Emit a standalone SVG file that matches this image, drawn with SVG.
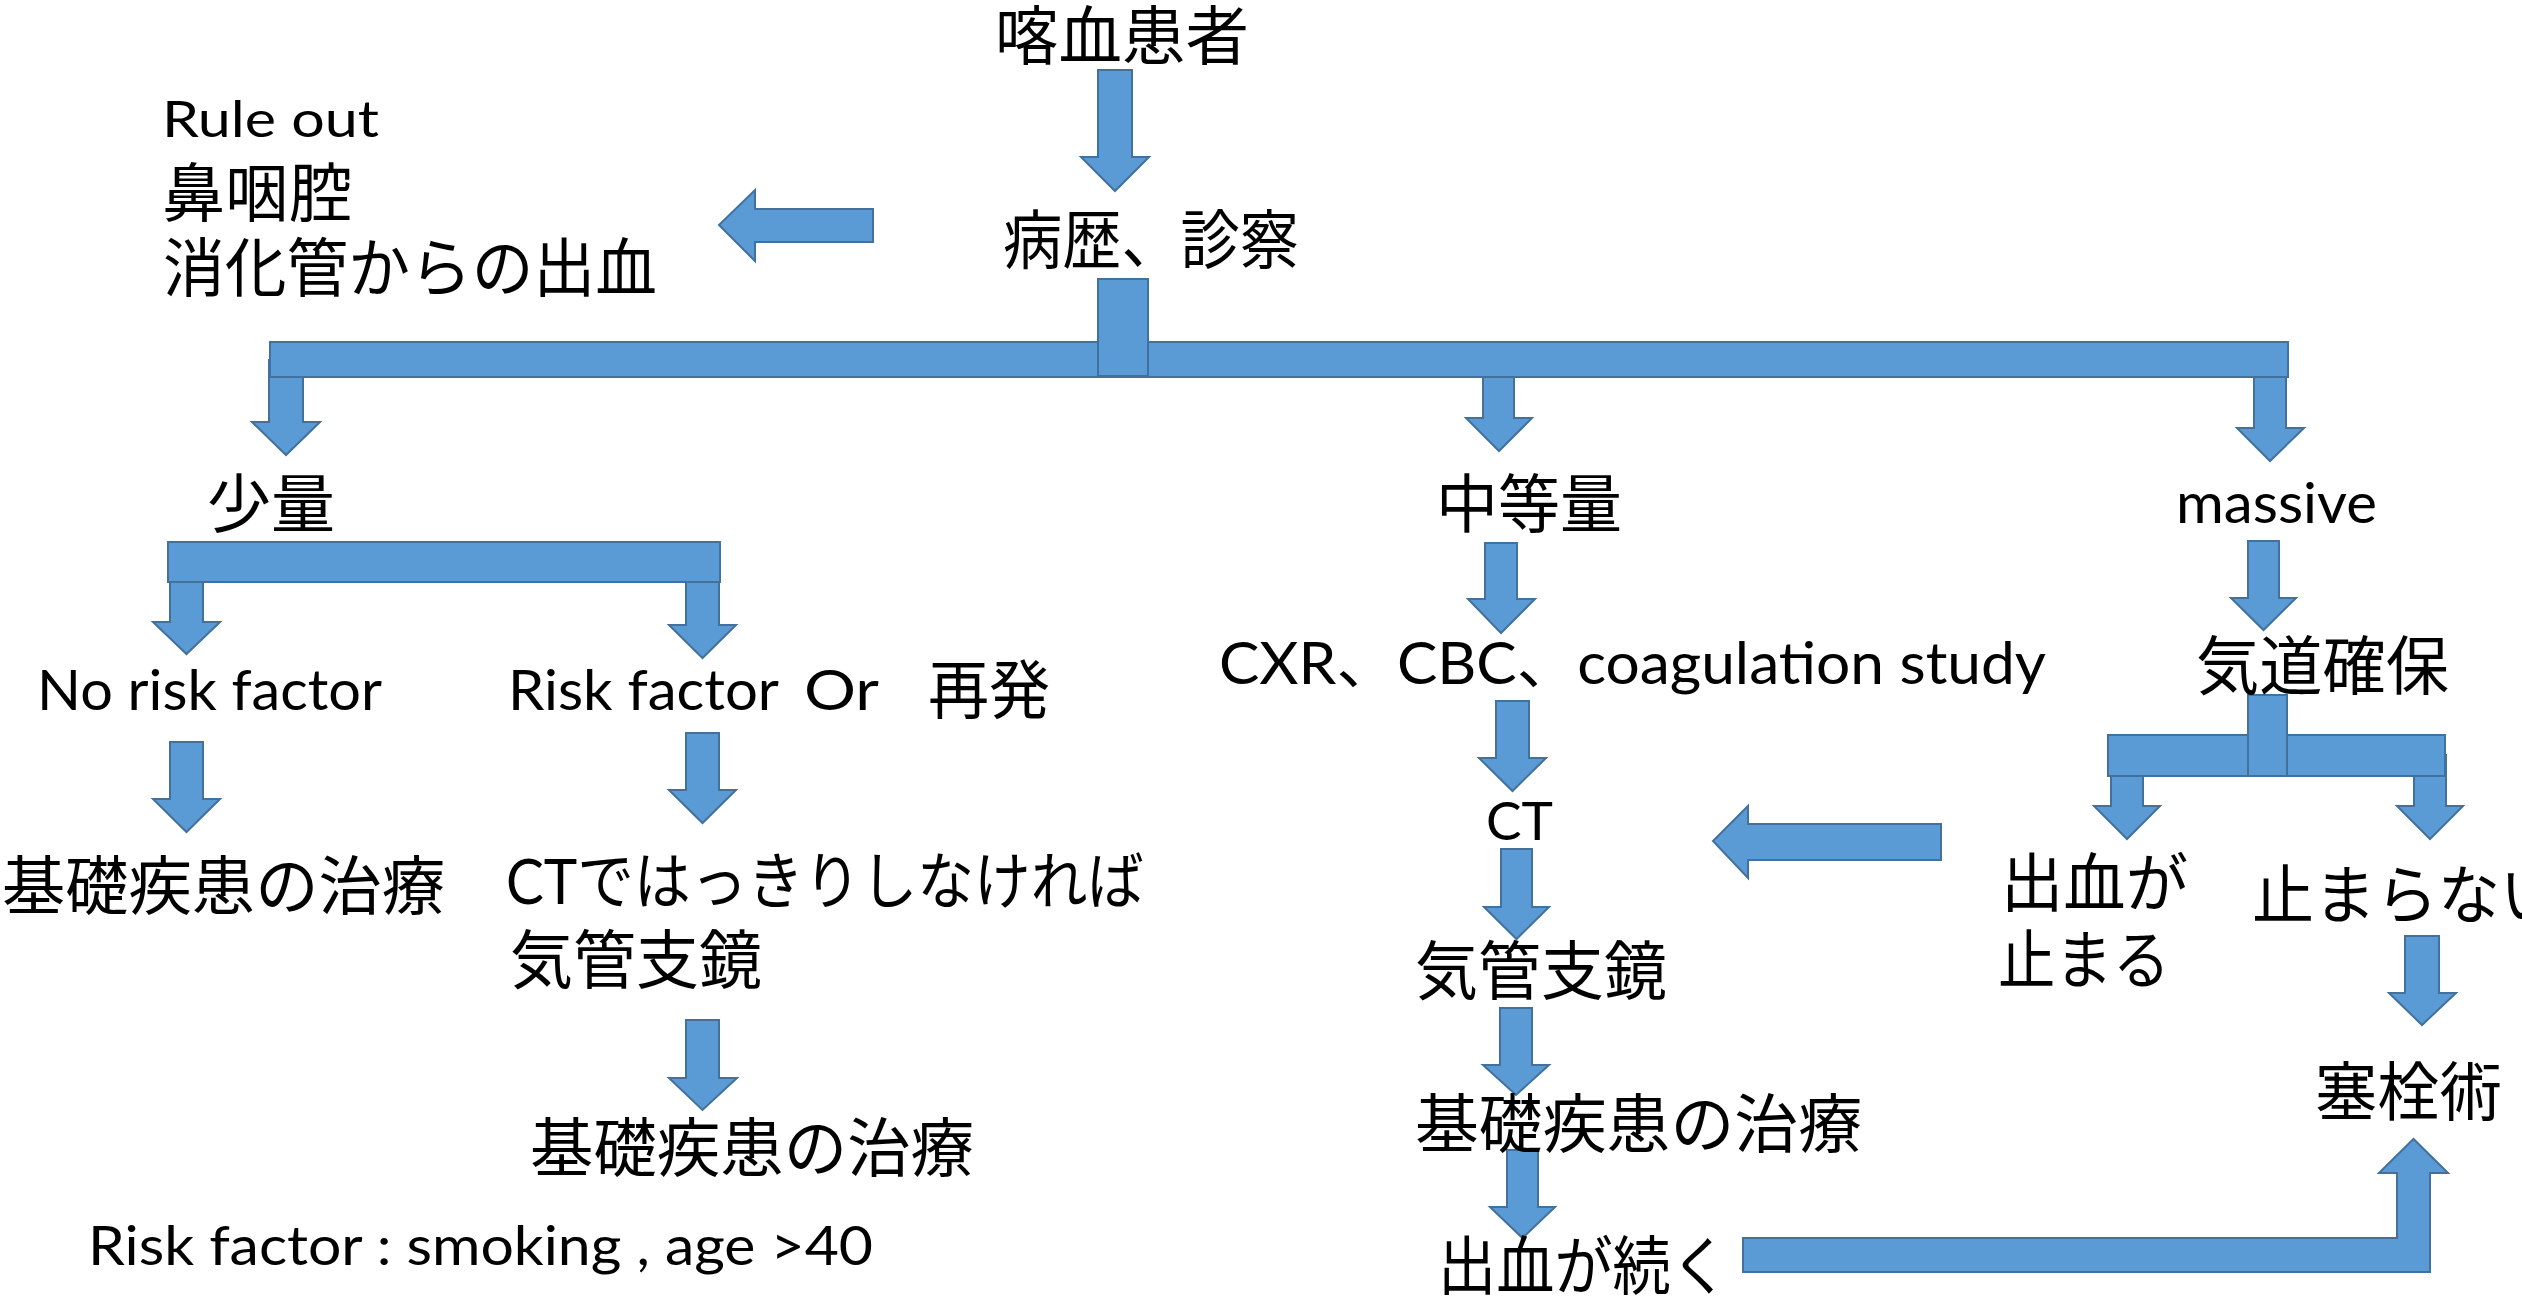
<svg xmlns="http://www.w3.org/2000/svg" width="2522" height="1296" viewBox="0 0 2522 1296">
<style>
.a{fill:#5B9BD5;stroke:#41719C;stroke-width:2;stroke-linejoin:miter}
.t{fill:#000;font-family:Lato,"Noto Sans CJK JP",sans-serif}
.j{font-family:"Noto Sans CJK JP",sans-serif;font-size:64px}
.l{font-size:56px}
</style>
<rect width="2522" height="1296" fill="#fff"/>
<g id="connectors">
<path class="a" d="M1098,70 L1132,70 L1132,157 L1149,157 L1115,191 L1081,157 L1098,157 Z"/>
<path class="a" d="M873,209 L873,242 L755,242 L755,261 L719,225 L755,190 L755,209 Z"/>
<path class="a" d="M269,360 L303,360 L303,422 L320,422 L286,455 L252,422 L269,422 Z"/>
<path class="a" d="M1483,360 L1514,360 L1514,418 L1532,418 L1499,451 L1466,418 L1483,418 Z"/>
<path class="a" d="M2254,360 L2286,360 L2286,428 L2304,428 L2270,461 L2237,428 L2254,428 Z"/>
<rect class="a" x="270" y="342" width="2018" height="35"/>
<rect class="a" x="1098" y="279" width="50" height="97"/>
<path class="a" d="M170,560 L203,560 L203,622 L220,622 L186.5,654 L153,622 L170,622 Z"/>
<path class="a" d="M686,560 L719,560 L719,625 L736,625 L702.5,658 L669,625 L686,625 Z"/>
<rect class="a" x="168" y="542" width="552" height="40"/>
<path class="a" d="M170,742 L203,742 L203,799 L220,799 L186.5,832 L153,799 L170,799 Z"/>
<path class="a" d="M686,733 L719,733 L719,790 L736,790 L702.5,823 L669,790 L686,790 Z"/>
<path class="a" d="M686,1020 L719,1020 L719,1078 L737,1078 L702.5,1110 L669,1078 L686,1078 Z"/>
<path class="a" d="M1485,543 L1517,543 L1517,599 L1535,599 L1501,633 L1468,599 L1485,599 Z"/>
<path class="a" d="M1496,701 L1529,701 L1529,758 L1546,758 L1512.5,791 L1479,758 L1496,758 Z"/>
<path class="a" d="M1501,849 L1532,849 L1532,907 L1549,907 L1516.5,939 L1484,907 L1501,907 Z"/>
<path class="a" d="M1500,1008 L1532,1008 L1532,1065 L1549,1065 L1516,1095 L1483,1065 L1500,1065 Z"/>
<path class="a" d="M1507,1150 L1538,1150 L1538,1207 L1555,1207 L1522.5,1238 L1490,1207 L1507,1207 Z"/>
<path class="a" d="M2248,541 L2279,541 L2279,598 L2296,598 L2263.5,630 L2231,598 L2248,598 Z"/>
<path class="a" d="M2111,755 L2143,755 L2143,806 L2160,806 L2127,839 L2094,806 L2111,806 Z"/>
<path class="a" d="M2414,755 L2446,755 L2446,806 L2463,806 L2430,839 L2397,806 L2414,806 Z"/>
<rect class="a" x="2108" y="735" width="337" height="41"/>
<rect class="a" x="2248" y="695" width="39" height="81"/>
<path class="a" d="M1941,824 L1941,860 L1748,860 L1748,878 L1713,841 L1748,806 L1748,824 Z"/>
<path class="a" d="M2405,936 L2439,936 L2439,993 L2456,993 L2422,1025 L2389,993 L2405,993 Z"/>
<path class="a" d="M1743,1238 L2397,1238 L2397,1173 L2379,1173 L2413.5,1139 L2448,1173 L2430,1173 L2430,1272 L1743,1272 Z"/>
</g>
<g id="n-patient"><text class="t j" x="995" y="59" font-size="60" textLength="254" lengthAdjust="spacingAndGlyphs">喀血患者</text></g>
<g id="n-history"><text class="t j" x="1003" y="263" textLength="296" lengthAdjust="spacingAndGlyphs">病歴、診察</text></g>
<g id="n-ruleout">
<text class="t" x="162" y="137" font-size="50" textLength="217" lengthAdjust="spacingAndGlyphs">Rule out</text>
<text class="t j" x="162" y="216" textLength="190" lengthAdjust="spacingAndGlyphs">鼻咽腔</text>
<text class="t j" x="163" y="291" textLength="494" lengthAdjust="spacingAndGlyphs">消化管からの出血</text>
</g>
<g id="n-small"><text class="t j" x="207" y="527" textLength="128" lengthAdjust="spacingAndGlyphs">少量</text></g>
<g id="n-moderate"><text class="t j" x="1436" y="527" textLength="186" lengthAdjust="spacingAndGlyphs">中等量</text></g>
<g id="n-massive"><text class="t" x="2176" y="523" font-size="57" textLength="201" lengthAdjust="spacingAndGlyphs">massive</text></g>
<g id="n-norisk"><text class="t" x="37" y="710" font-size="57" textLength="345" lengthAdjust="spacingAndGlyphs">No risk factor</text></g>
<g id="n-risk">
<text class="t l" x="508" y="710" textLength="271" lengthAdjust="spacingAndGlyphs">Risk factor</text>
<text class="t l" x="804" y="710" textLength="75" lengthAdjust="spacingAndGlyphs">Or</text>
<text class="t j" x="928" y="713" textLength="122" lengthAdjust="spacingAndGlyphs">再発</text>
</g>
<g id="n-cxr"><text class="t" x="1219" y="684" font-size="58" textLength="827" lengthAdjust="spacingAndGlyphs">CXR、CBC、coagulation study</text></g>
<g id="n-airway"><text class="t j" x="2196" y="689" textLength="253" lengthAdjust="spacingAndGlyphs">気道確保</text></g>
<g id="n-treat1"><text class="t j" x="2" y="909" textLength="443" lengthAdjust="spacingAndGlyphs">基礎疾患の治療</text></g>
<g id="n-ctunclear">
<text class="t" x="506" y="904" font-size="62" textLength="638" lengthAdjust="spacingAndGlyphs">CTではっきりしなければ</text>
<text class="t j" x="510" y="983" textLength="252" lengthAdjust="spacingAndGlyphs">気管支鏡</text>
</g>
<g id="n-treat2"><text class="t j" x="530" y="1171" textLength="444" lengthAdjust="spacingAndGlyphs">基礎疾患の治療</text></g>
<g id="n-note"><text class="t" x="88" y="1265" font-size="55" textLength="785" lengthAdjust="spacingAndGlyphs">Risk factor : smoking , age &gt;40</text></g>
<g id="n-ct"><text class="t" x="1486" y="840" font-size="53" textLength="67" lengthAdjust="spacingAndGlyphs">CT</text></g>
<g id="n-bronch"><text class="t j" x="1415" y="994" textLength="252" lengthAdjust="spacingAndGlyphs">気管支鏡</text></g>
<g id="n-treat3"><text class="t j" x="1415" y="1147" textLength="447" lengthAdjust="spacingAndGlyphs">基礎疾患の治療</text></g>
<g id="n-continue"><text class="t j" x="1438" y="1289" textLength="291" lengthAdjust="spacingAndGlyphs">出血が続く</text></g>
<g id="n-stopped">
<text class="t j" x="2001" y="906" textLength="187" lengthAdjust="spacingAndGlyphs">出血が</text>
<text class="t j" x="1998" y="983" textLength="172" lengthAdjust="spacingAndGlyphs">止まる</text>
</g>
<g id="n-notstopped"><text class="t j" x="2252" y="918" textLength="310" lengthAdjust="spacingAndGlyphs">止まらない</text></g>
<g id="n-embol"><text class="t j" x="2315" y="1115" textLength="187" lengthAdjust="spacingAndGlyphs">塞栓術</text></g>
</svg>
